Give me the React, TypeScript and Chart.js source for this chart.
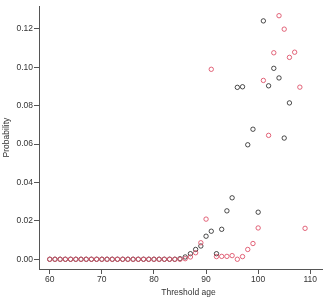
import React, { useEffect, useRef } from "react";
import { Chart, registerables } from "chart.js";

Chart.register(...registerables);

// Threshold ages for each series
const blackAges = [
  60, 61, 62, 63, 64, 65, 66, 67, 68, 69, 70, 71, 72, 73, 74, 75, 76, 77, 78, 79,
  80, 81, 82, 83, 84, 85, 86, 87, 88, 89, 90, 91, 92, 93, 94, 95, 96, 97, 98, 99,
  100, 101, 102, 103, 104, 105, 106,
];
const blackProb = [
  0, 0, 0, 0, 0, 0, 0, 0, 0, 0, 0, 0, 0, 0, 0, 0, 0, 0, 0, 0,
  0, 0, 0, 0, 0, 0.0003, 0.0012, 0.0029, 0.0051, 0.0069, 0.012, 0.0146, 0.0029, 0.0156, 0.0252, 0.032, 0.0895, 0.0898, 0.0596, 0.0677,
  0.0245, 0.1241, 0.0903, 0.0994, 0.0944, 0.0631, 0.0814,
];

const redAges = [
  60, 61, 62, 63, 64, 65, 66, 67, 68, 69, 70, 71, 72, 73, 74, 75, 76, 77, 78, 79,
  80, 81, 82, 83, 84, 85, 86, 87, 88, 89, 90, 91, 92, 93, 94, 95, 96, 97, 98, 99,
  100, 101, 102, 103, 104, 105, 106, 107, 108, 109,
];
const redProb = [
  0, 0, 0, 0, 0, 0, 0, 0, 0, 0, 0, 0, 0, 0, 0, 0, 0, 0, 0, 0,
  0, 0, 0, 0, 0, 0, 0.0003, 0.0012, 0.0034, 0.0086, 0.0209, 0.0989, 0.0014, 0.0015, 0.0015, 0.0019, 0, 0.0014, 0.0051, 0.0082,
  0.0163, 0.0931, 0.0645, 0.1075, 0.1268, 0.1198, 0.1051, 0.1078, 0.0896, 0.0161,
];

const xTicks = [60, 70, 80, 90, 100, 110];
const yTicks = [0, 0.02, 0.04, 0.06, 0.08, 0.1, 0.12];
const xTitle = "Threshold age";
const yTitle = "Probability";

const AXIS = "#555555";
const TEXT = "#333333";
const FONT = "'Liberation Sans', Arial, sans-serif";

// Draws the x-axis title a little right of the plot centre, under the tick labels
const xTitlePlugin = {
  id: "xTitle",
  afterDraw(chart: any) {
    const { ctx, chartArea } = chart;
    ctx.save();
    ctx.font = `8.5px ${FONT}`;
    ctx.fillStyle = TEXT;
    ctx.textAlign = "center";
    ctx.textBaseline = "middle";
    ctx.fillText(xTitle, (chartArea.left + chartArea.right) / 2 + 8, chart.height - 6);
    ctx.restore();
  },
};

export default function App() {
  const ref = useRef<HTMLCanvasElement | null>(null);

  useEffect(() => {
    if (!ref.current) return;
    const toPts = (xs: number[], ys: number[]) => xs.map((x, i) => ({ x, y: ys[i] }));
    const chart = new Chart(ref.current, {
      type: "scatter",
      data: {
        datasets: [
          {
            label: "red",
            data: toPts(redAges, redProb),
            borderColor: "#DF536B",
            backgroundColor: "rgba(0,0,0,0)",
            borderWidth: 0.9,
            pointRadius: 2.2,
          },
          {
            label: "black",
            data: toPts(blackAges, blackProb),
            borderColor: "#000000",
            backgroundColor: "rgba(0,0,0,0)",
            borderWidth: 0.7,
            pointRadius: 2.2,
          },
        ],
      },
      plugins: [xTitlePlugin],
      options: {
        responsive: false,
        animation: false,
        layout: { padding: { top: 3, right: 9, left: 0, bottom: 0 } },
        plugins: { legend: { display: false }, tooltip: { enabled: false } },
        scales: {
          x: {
            type: "linear",
            min: 57.94,
            max: 112.25,
            afterBuildTicks: (s: any) => {
              s.ticks = xTicks.map((v) => ({ value: v }));
            },
            afterFit: (s: any) => {
              s.height = 30;
            },
            grid: { drawOnChartArea: false, drawTicks: true, tickLength: 5, color: AXIS, lineWidth: 1 },
            border: { display: true, color: AXIS, width: 1 },
            ticks: {
              padding: 1,
              color: TEXT,
              font: { family: FONT, size: 8.5 },
              maxRotation: 0,
              callback: (v: any) => String(v),
            },
            title: { display: false },
          },
          y: {
            type: "linear",
            min: -0.00507,
            max: 0.1318,
            afterBuildTicks: (s: any) => {
              s.ticks = yTicks.map((v) => ({ value: v }));
            },
            afterFit: (s: any) => {
              s.width = 39;
            },
            grid: { drawOnChartArea: false, drawTicks: true, tickLength: 5, color: AXIS, lineWidth: 1 },
            border: { display: true, color: AXIS, width: 1 },
            ticks: {
              padding: 1,
              color: TEXT,
              font: { family: FONT, size: 8.5 },
              callback: (v: any) => Number(v).toFixed(2),
            },
            title: {
              display: true,
              text: yTitle,
              color: TEXT,
              font: { family: FONT, size: 8.5 },
              padding: { top: 2, bottom: 0 },
            },
          },
        },
      },
    });
    return () => chart.destroy();
  }, []);

  return (
    <div style={{ position: "absolute", left: 0, top: 0, width: 331, height: 299, background: "#fff" }}>
      <canvas ref={ref} width={331} height={299} />
    </div>
  );
}
